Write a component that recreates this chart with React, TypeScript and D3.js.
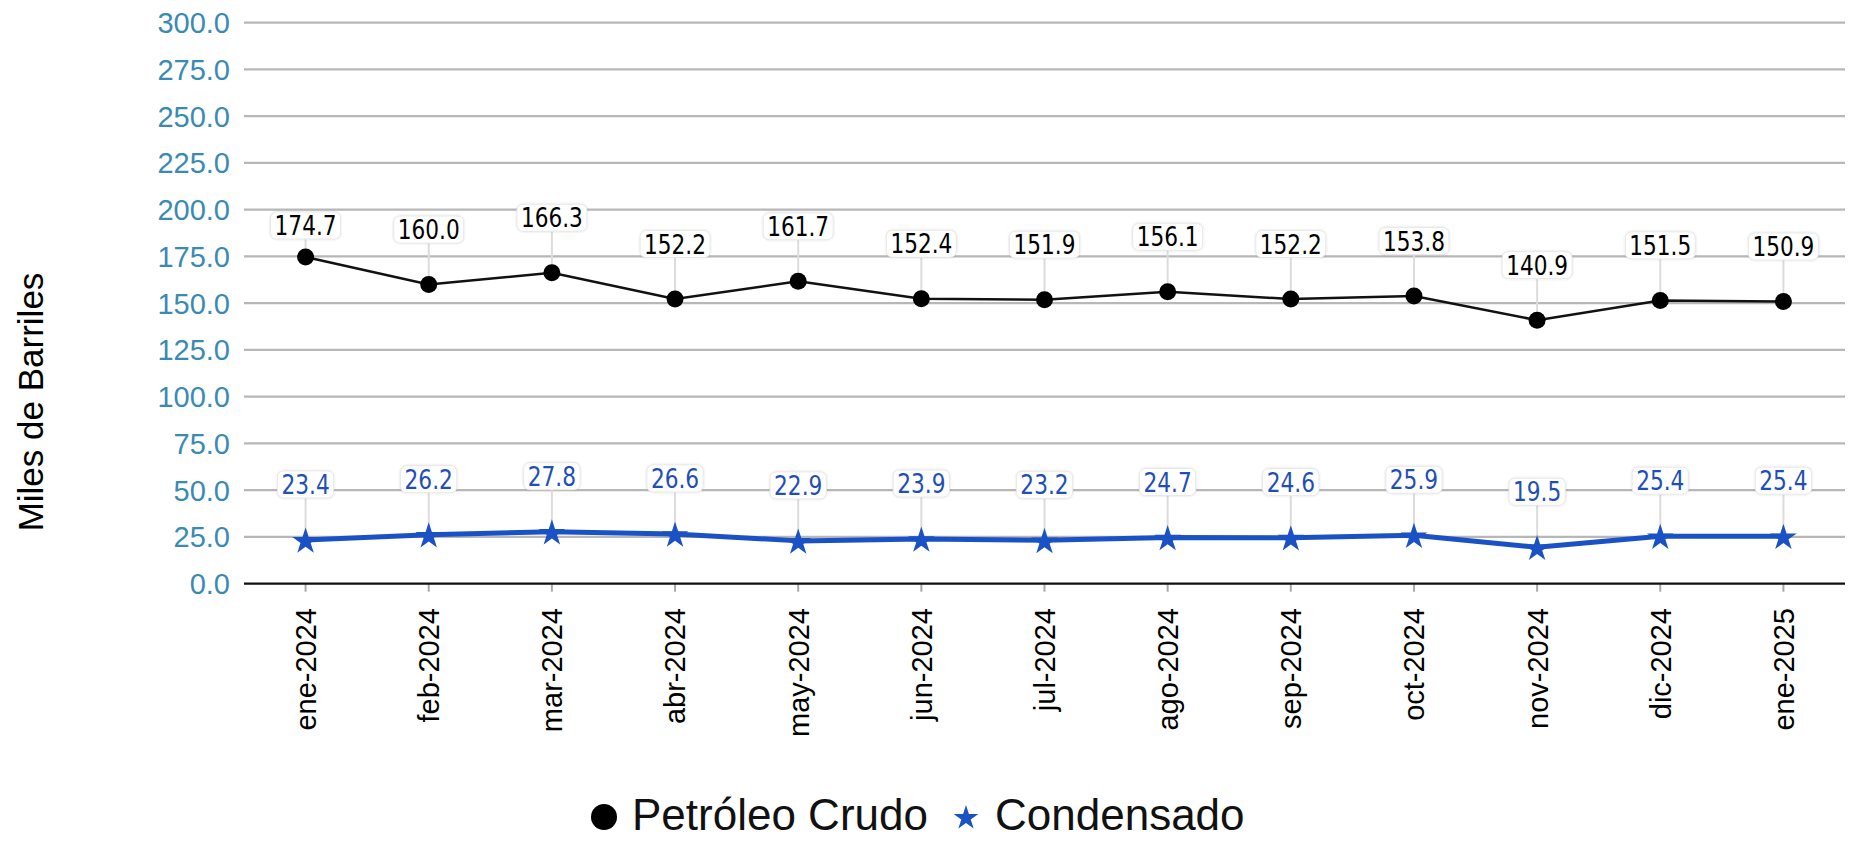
import React from "react";
import * as d3 from "d3";

const months = ["ene-2024","feb-2024","mar-2024","abr-2024","may-2024","jun-2024","jul-2024","ago-2024","sep-2024","oct-2024","nov-2024","dic-2024","ene-2025"];
const crudo = [174.7,160.0,166.3,152.2,161.7,152.4,151.9,156.1,152.2,153.8,140.9,151.5,150.9];
const condensado = [23.4,26.2,27.8,26.6,22.9,23.9,23.2,24.7,24.6,25.9,19.5,25.4,25.4];
const yTicks = [0,25,50,75,100,125,150,175,200,225,250,275,300];
const seriesNames = ["Petróleo Crudo","Condensado"];

const W = 1850, H = 841;
const LEFT = 244, RIGHT = 1845, TOP = 22.7, BOTTOM = 583.7;
const BLUE = "#1a52c6";
const BLUE_TEXT = "#1f4fb6";
const YLABEL = "#3a8ab4";
const GRID = "#b7b7b7";
const SANS = "'Liberation Sans', Arial, sans-serif";
const LABEL_FONT = "'DejaVu Sans Condensed', 'DejaVu Sans', sans-serif";
const LABEL_FS = 26;

export default function App() {
  const x = d3.scaleBand<string>().domain(months).range([LEFT, RIGHT]).padding(0);
  const cx = (m: string) => (x(m) as number) + x.bandwidth() / 2;
  const y = d3.scaleLinear().domain([0, 300]).range([BOTTOM, TOP]);

  const line = d3.line<number>().x((_, i) => cx(months[i])).y((v) => y(v));
  const starSize = (R: number) => (R * R) / 0.8908130915292852;
  const star = d3.symbol().type(d3.symbolStar).size(starSize(14))() as string;
  const legendStar = d3.symbol().type(d3.symbolStar).size(starSize(13))() as string;

  const textW = (s: string) => {
    let w = 0;
    for (const ch of s) w += ch === "." ? 0.293 : 0.546;
    return w * 25;
  };

  const crudoNudge = (i: number) => (i === 0 ? 22 : 45.5);
  const condNudge = (_i: number) => 46;

  const leaders = (vals: number[], key: string, nudge: (i: number) => number) =>
    vals.map((v, i) => {
      const px = cx(months[i]);
      const py = y(v);
      const base = py - nudge(i);
      return <line key={key + "l" + i} x1={px} x2={px} y1={base + 3} y2={py} stroke="#dcdcdc" strokeWidth={2} />;
    });

  const boxes = (vals: number[], color: string, key: string, nudge: (i: number) => number) =>
    vals.map((v, i) => {
      const px = cx(months[i]);
      const py = y(v);
      const base = py - nudge(i);
      const txt = v.toFixed(1);
      const tw = textW(txt);
      const w = tw + 8;
      return (
        <g key={key + "b" + i}>
          <rect x={px - w / 2} y={base - 23} width={w} height={27} rx={6} fill="#ffffff" stroke="#e8e8e8" strokeWidth={1} filter="url(#sh)" />
          <text x={px} y={base} textAnchor="middle" fontFamily={LABEL_FONT} fontSize={LABEL_FS} fill={color} textLength={tw} lengthAdjust="spacingAndGlyphs">{txt}</text>
        </g>
      );
    });

  return (
    <svg width={W} height={H} style={{ position: "absolute", left: 0, top: 0, background: "#fff" }}>
      <defs>
        <filter id="sh" x="-20%" y="-30%" width="140%" height="160%">
          <feDropShadow dx="0" dy="0" stdDeviation="1.2" floodColor="#000" floodOpacity="0.15" />
        </filter>
      </defs>
      <rect x={0} y={0} width={W} height={H} fill="#fff" />
      {yTicks.filter((t) => t > 0).map((t) => (
        <line key={"g" + t} x1={LEFT} x2={RIGHT} y1={y(t)} y2={y(t)} stroke={GRID} strokeWidth={2.2} />
      ))}
      {yTicks.map((t) => (
        <text key={"yl" + t} x={230} y={y(t)} dy="0.36em" textAnchor="end" fontFamily={SANS} fontSize={29} fill={YLABEL}>{t.toFixed(1)}</text>
      ))}
      {months.map((m) => (
        <line key={"xt" + m} x1={cx(m)} x2={cx(m)} y1={BOTTOM} y2={BOTTOM + 8} stroke="#a8a8a8" strokeWidth={2} />
      ))}
      <line x1={LEFT} x2={RIGHT} y1={BOTTOM} y2={BOTTOM} stroke="#111" strokeWidth={2.2} />
      {months.map((m) => (
        <text key={"xl" + m} transform={`translate(${cx(m)},608) rotate(-90)`} dy="0.36em" textAnchor="end" fontFamily={SANS} fontSize={29} fill="#000">{m}</text>
      ))}
      <text transform={`translate(43,402) rotate(-90)`} textAnchor="middle" fontFamily={SANS} fontSize={35} fill="#000">Miles de Barriles</text>

      {leaders(crudo, "c", crudoNudge)}
      {leaders(condensado, "d", condNudge)}

      <path d={line(crudo) as string} fill="none" stroke="#111" strokeWidth={2.5} />
      <path d={line(condensado) as string} fill="none" stroke={BLUE} strokeWidth={5} strokeLinejoin="round" />

      {crudo.map((v, i) => (
        <circle key={"cm" + i} cx={cx(months[i])} cy={y(v)} r={8.5} fill="#000" />
      ))}
      {condensado.map((v, i) => (
        <path key={"dm" + i} d={star} transform={`translate(${cx(months[i])},${y(v) + 1.5})`} fill={BLUE} />
      ))}

      {boxes(crudo, "#000", "c", crudoNudge)}
      {boxes(condensado, BLUE_TEXT, "d", condNudge)}

      <circle cx={604} cy={817} r={13} fill="#000" />
      <text x={632} y={830} fontFamily={SANS} fontSize={44} fill="#111">{seriesNames[0]}</text>
      <path d={legendStar} transform="translate(966,818)" fill={BLUE} />
      <text x={995} y={830} fontFamily={SANS} fontSize={44} fill="#111">{seriesNames[1]}</text>
    </svg>
  );
}
